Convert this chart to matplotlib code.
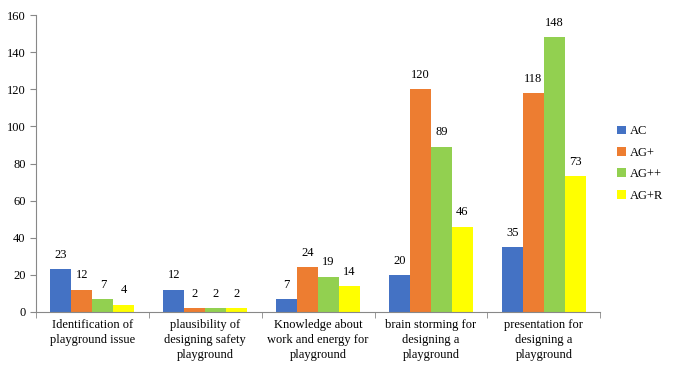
import matplotlib
matplotlib.use("Agg")
import matplotlib.pyplot as plt
import numpy as np

categories = [
    "Identification of\nplayground issue",
    "plausibility of\ndesigning safety\nplayground",
    "Knowledge about\nwork and energy for\nplayground",
    "brain storming for\ndesigning a\nplayground",
    "presentation for\ndesigning a\nplayground",
]
series_names = ["AC", "AG+", "AG++", "AG+R"]
ac = [23, 12, 7, 20, 35]
ag_plus = [12, 2, 24, 120, 118]
ag_pp = [7, 2, 19, 89, 148]
ag_r = [4, 2, 14, 46, 73]
colors = ["#4472C4", "#ED7D31", "#92D050", "#FFFF00"]

plt.rcParams["font.family"] = ["Liberation Serif", "DejaVu Serif"]

fig = plt.figure(figsize=(6.75, 3.75), dpi=100)
ax = fig.add_axes([0.0533, 0.168, 0.836, 0.792])

x = np.arange(len(categories))
w = 0.186
for i, (name, vals) in enumerate(zip(series_names, [ac, ag_plus, ag_pp, ag_r])):
    pos = x + (i - 1.5) * w
    ax.bar(pos, vals, w, color=colors[i], label=name)
    for p, v in zip(pos, vals):
        ax.annotate(str(v), (p, v), xytext=(0, 6), textcoords="offset points",
                    ha="center", va="bottom", fontsize=9)

ax.set_xlim(-0.5, len(categories) - 0.5)
ax.set_ylim(0, 160)
ax.set_yticks(range(0, 161, 20))
ax.set_xticks(x)
ax.set_xticklabels(categories, fontsize=9, linespacing=1.35)
ax.tick_params(axis="x", length=0, pad=5)
ax.set_xticks(np.arange(-0.5, len(categories), 1), minor=True)
ax.tick_params(axis="x", which="minor", length=4, color="#888888", direction="out")
ax.tick_params(axis="y", length=4, color="#888888", labelsize=9, direction="out")
for s in ["top", "right"]:
    ax.spines[s].set_visible(False)
ax.spines["left"].set_color("#888888")
ax.spines["bottom"].set_color("#888888")

ax.legend(loc="center left", bbox_to_anchor=(1.01, 0.5), frameon=False, fontsize=9,
          handlelength=0.7, handleheight=0.7, handletextpad=0.3, labelspacing=0.75)

fig.savefig("out.png", dpi=100)
